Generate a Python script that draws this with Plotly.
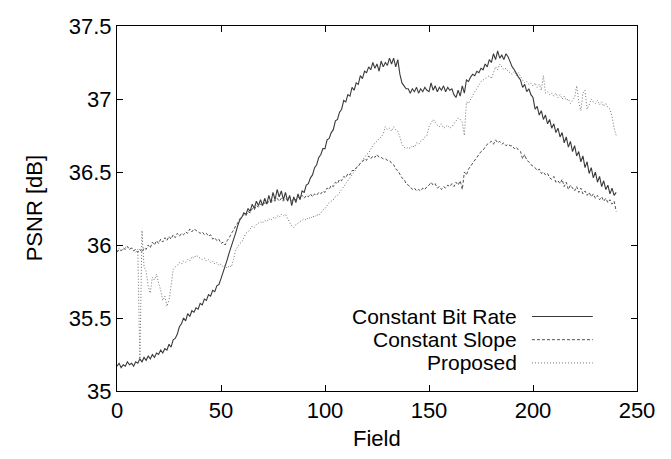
import plotly.graph_objects as go

field = list(range(241))

cbr = [
    35.17, 35.19, 35.16, 35.18, 35.17, 35.20, 35.18, 35.19, 35.17, 35.20,
    35.19, 35.22, 35.20, 35.23, 35.21, 35.24, 35.22, 35.25, 35.23, 35.26,
    35.25, 35.28, 35.26, 35.29, 35.28, 35.32, 35.30, 35.35, 35.36, 35.39,
    35.44, 35.46, 35.50, 35.48, 35.53, 35.51, 35.55, 35.54, 35.57, 35.56,
    35.60, 35.59, 35.63, 35.62, 35.66, 35.65, 35.69, 35.68, 35.72, 35.73,
    35.77, 35.81, 35.86, 35.90, 35.95, 35.99, 36.04, 36.08, 36.13, 36.17,
    36.19, 36.22, 36.21, 36.25, 36.23, 36.28, 36.25, 36.30, 36.27, 36.31,
    36.27, 36.32, 36.28, 36.34, 36.29, 36.36, 36.31, 36.38, 36.33, 36.37,
    36.31, 36.36, 36.30, 36.34, 36.27, 36.33, 36.29, 36.35, 36.31, 36.37,
    36.36, 36.41, 36.42, 36.46, 36.48, 36.53, 36.55, 36.60, 36.62, 36.66,
    36.66, 36.72, 36.73, 36.77, 36.79, 36.85, 36.86, 36.91, 36.93, 36.99,
    36.98, 37.03, 37.02, 37.08, 37.06, 37.11, 37.10, 37.16, 37.14, 37.19,
    37.18, 37.22, 37.20, 37.25, 37.21, 37.24, 37.19, 37.26, 37.22, 37.25,
    37.23, 37.28, 37.24, 37.28, 37.22, 37.27, 37.17, 37.11, 37.09, 37.07,
    37.07, 37.04, 37.07, 37.05, 37.08, 37.04, 37.07, 37.05, 37.08, 37.06,
    37.05, 37.11, 37.06, 37.09, 37.05, 37.08, 37.06, 37.09, 37.05, 37.08,
    37.06, 37.07, 37.03, 37.01, 37.06, 37.02, 37.09, 37.04, 37.13, 37.12,
    37.15, 37.17, 37.16, 37.19, 37.18, 37.21, 37.20, 37.24, 37.22, 37.27,
    37.25, 37.31, 37.27, 37.33, 37.28, 37.30, 37.27, 37.31, 37.29, 37.25,
    37.22, 37.20, 37.17, 37.15, 37.13, 37.08, 37.10, 37.05, 37.07, 37.03,
    37.01, 36.93, 36.95, 36.89, 36.92, 36.86, 36.89, 36.83, 36.86, 36.80,
    36.83, 36.77, 36.80, 36.74, 36.77, 36.70, 36.74, 36.67, 36.71, 36.64,
    36.68, 36.61, 36.64, 36.57, 36.61, 36.53, 36.57, 36.49, 36.53, 36.46,
    36.50, 36.43, 36.47, 36.40, 36.44, 36.38, 36.41, 36.35, 36.39, 36.34, 36.36,
]

slope = [
    35.95, 35.97, 35.96, 35.98, 35.97, 35.99, 35.97, 35.98, 35.96, 35.97,
    35.95, 35.97, 35.95, 35.98, 35.97, 36.00, 35.98, 36.02, 36.00, 36.03,
    36.01, 36.04, 36.02, 36.05, 36.03, 36.06, 36.04, 36.07, 36.05, 36.08,
    36.06, 36.08, 36.07, 36.09, 36.08, 36.11, 36.09, 36.11, 36.10, 36.09,
    36.08, 36.09, 36.07, 36.08, 36.06, 36.07, 36.04, 36.05, 36.03, 36.04,
    36.01, 36.02, 36.00, 36.03, 36.05, 36.08, 36.10, 36.13, 36.15, 36.18,
    36.19, 36.21, 36.20, 36.23, 36.22, 36.25, 36.24, 36.27, 36.26, 36.28,
    36.27, 36.29, 36.28, 36.30, 36.29, 36.31, 36.30, 36.32, 36.30, 36.32,
    36.30, 36.32, 36.31, 36.33, 36.30, 36.32, 36.31, 36.33, 36.32, 36.34,
    36.32, 36.34, 36.33, 36.35, 36.33, 36.35, 36.34, 36.36, 36.35, 36.37,
    36.36, 36.39, 36.38, 36.41, 36.40, 36.43, 36.42, 36.45, 36.44, 36.47,
    36.46, 36.49, 36.48, 36.51, 36.51, 36.53, 36.54, 36.56, 36.57, 36.59,
    36.58, 36.61, 36.59, 36.61, 36.60, 36.62, 36.60, 36.60, 36.59, 36.59,
    36.58, 36.58, 36.56, 36.55, 36.52, 36.51, 36.48, 36.46, 36.45, 36.42,
    36.41, 36.40, 36.38, 36.39, 36.37, 36.38, 36.37, 36.39, 36.38, 36.40,
    36.41, 36.43, 36.41, 36.42, 36.39, 36.40, 36.38, 36.40, 36.39, 36.41,
    36.40, 36.42, 36.40, 36.43, 36.41, 36.44, 36.38, 36.50, 36.48, 36.52,
    36.54, 36.56, 36.58, 36.60, 36.62, 36.64, 36.65, 36.67, 36.69, 36.70,
    36.71, 36.69, 36.72, 36.70, 36.71, 36.69, 36.70, 36.68, 36.69, 36.68,
    36.68, 36.66, 36.67, 36.65, 36.64, 36.59, 36.62, 36.58, 36.57, 36.55,
    36.54, 36.53, 36.51, 36.52, 36.49, 36.50, 36.48, 36.49, 36.46, 36.45,
    36.47, 36.43, 36.44, 36.42, 36.45, 36.40, 36.43, 36.38, 36.41, 36.39,
    36.37, 36.40, 36.36, 36.39, 36.35, 36.37, 36.34, 36.36, 36.33, 36.35,
    36.32, 36.34, 36.31, 36.33, 36.30, 36.32, 36.29, 36.31, 36.28, 36.30, 36.23,
]

proposed = [
    35.96, 35.98, 35.96, 35.97, 35.98, 35.99, 35.97, 35.98, 35.96, 35.95,
    35.97, 35.20, 36.10, 35.85, 35.82, 35.72, 35.67, 35.78, 35.76, 35.80,
    35.74, 35.69, 35.62, 35.65, 35.58, 35.62, 35.72, 35.83, 35.85, 35.86,
    35.88, 35.87, 35.89, 35.88, 35.90, 35.89, 35.92, 35.91, 35.93, 35.92,
    35.91, 35.90, 35.91, 35.89, 35.90, 35.88, 35.89, 35.87, 35.88, 35.86,
    35.87, 35.85, 35.86, 35.84, 35.86, 35.85, 35.90, 35.96, 35.99, 36.01,
    36.02, 36.05, 36.08, 36.09, 36.11, 36.13, 36.12, 36.14, 36.15, 36.16,
    36.15, 36.17, 36.16, 36.18, 36.17, 36.19, 36.18, 36.20, 36.19, 36.21,
    36.20, 36.21, 36.18, 36.15, 36.13, 36.12, 36.14, 36.15, 36.16, 36.17,
    36.18, 36.17, 36.19, 36.18, 36.20, 36.19, 36.21, 36.20, 36.22, 36.24,
    36.25, 36.27, 36.29, 36.30, 36.31, 36.33, 36.34, 36.36, 36.38, 36.40,
    36.42, 36.44, 36.46, 36.48, 36.50, 36.52, 36.54, 36.56, 36.58, 36.60,
    36.62, 36.63, 36.66, 36.68, 36.70, 36.71, 36.73, 36.74, 36.76, 36.81,
    36.79, 36.80, 36.78, 36.81, 36.79, 36.78, 36.74, 36.69, 36.67, 36.66,
    36.67, 36.66, 36.68, 36.67, 36.70, 36.69, 36.71, 36.72, 36.74, 36.75,
    36.81, 36.84, 36.86, 36.84, 36.82, 36.81, 36.83, 36.80, 36.81, 36.82,
    36.80, 36.81, 36.83, 36.85, 36.87, 36.86, 36.84, 36.75, 36.98, 36.97,
    37.00, 37.02, 37.05, 37.07, 37.10, 37.12, 37.13, 37.14, 37.15, 37.16,
    37.14, 37.18, 37.22, 37.20, 37.24, 37.22, 37.20, 37.21, 37.19, 37.18,
    37.17, 37.19, 37.16, 37.18, 37.15, 37.13, 37.11, 37.12, 37.10, 37.11,
    37.09, 37.11, 37.08, 37.10, 37.06, 37.16, 37.04, 37.05, 37.03, 37.04,
    37.02, 37.04, 37.01, 37.03, 37.00, 37.02, 36.99, 37.00, 36.97, 36.99,
    37.01, 37.09, 36.98, 36.92, 37.04, 37.06, 36.93, 36.96, 37.00, 36.98,
    36.97, 36.99, 36.96, 36.98, 36.95, 36.97, 36.94, 36.93, 36.88, 36.80, 36.75,
]

assert len(cbr) == len(field) and len(slope) == len(field) and len(proposed) == len(field), (len(cbr), len(slope), len(proposed))

series_names = ["Constant Bit Rate", "Constant Slope", "Proposed"]
x_ticks = [0, 50, 100, 150, 200, 250]
y_ticks = [35, 35.5, 36, 36.5, 37, 37.5]
y_tick_text = ["35", "35.5", "36", "36.5", "37", "37.5"]

styles = [
    dict(color="#3a3a3a", width=1.1, dash="solid"),
    dict(color="#505050", width=1, dash="3px,2px"),
    dict(color="#707070", width=1, dash="1px,2px"),
]

FONT = "Liberation Sans, Arial, Helvetica, sans-serif"
FS = 22
LEG_FS = 21

fig = go.Figure()
for name, ys, st in zip(series_names, [cbr, slope, proposed], styles):
    fig.add_trace(go.Scatter(x=field, y=ys, mode="lines", name=name,
                             line=st, showlegend=False, hoverinfo="skip"))

axis_common = dict(showline=True, linecolor="black", linewidth=1, mirror="ticks",
                   ticks="inside", ticklen=6, tickcolor="black", tickwidth=1,
                   showgrid=False, zeroline=False, ticklabeloverflow="allow",
                   tickfont=dict(family=FONT, size=FS, color="black"))

fig.update_xaxes(range=[0, 250], tickvals=x_ticks, **axis_common)
fig.update_yaxes(range=[35, 37.5], tickvals=y_ticks, ticktext=y_tick_text, **axis_common)

annotations = [
    dict(text="PSNR [dB]", xref="paper", yref="paper", x=-0.158, y=0.5,
         textangle=-90, showarrow=False, xanchor="center", yanchor="middle",
         font=dict(family=FONT, size=FS, color="black")),
    dict(text="Field", xref="paper", yref="paper", x=0.5, y=-0.13,
         showarrow=False, xanchor="center", yanchor="middle",
         font=dict(family=FONT, size=FS, color="black")),
]
shapes = []
legend_y = [0.2042, 0.1406, 0.0769]
for name, st, ly in zip(series_names, styles, legend_y):
    annotations.append(dict(text=name, xref="paper", yref="paper", x=0.771, y=ly,
                            showarrow=False, xanchor="right", yanchor="middle",
                            borderpad=0,
                            font=dict(family=FONT, size=LEG_FS, color="black")))
    shapes.append(dict(type="line", xref="paper", yref="paper", x0=0.798, x1=0.915,
                       y0=ly, y1=ly, line=st))

# page body adds an 8px offset; margins compensate so the plot box lands where the reference has it
fig.update_layout(
    width=671, height=459,
    margin=dict(l=109, r=42, t=6, b=76),
    paper_bgcolor="white", plot_bgcolor="white",
    annotations=annotations, shapes=shapes,
    font=dict(family=FONT, size=FS, color="black"),
)

fig.write_html("out.html", config={"displayModeBar": False})
